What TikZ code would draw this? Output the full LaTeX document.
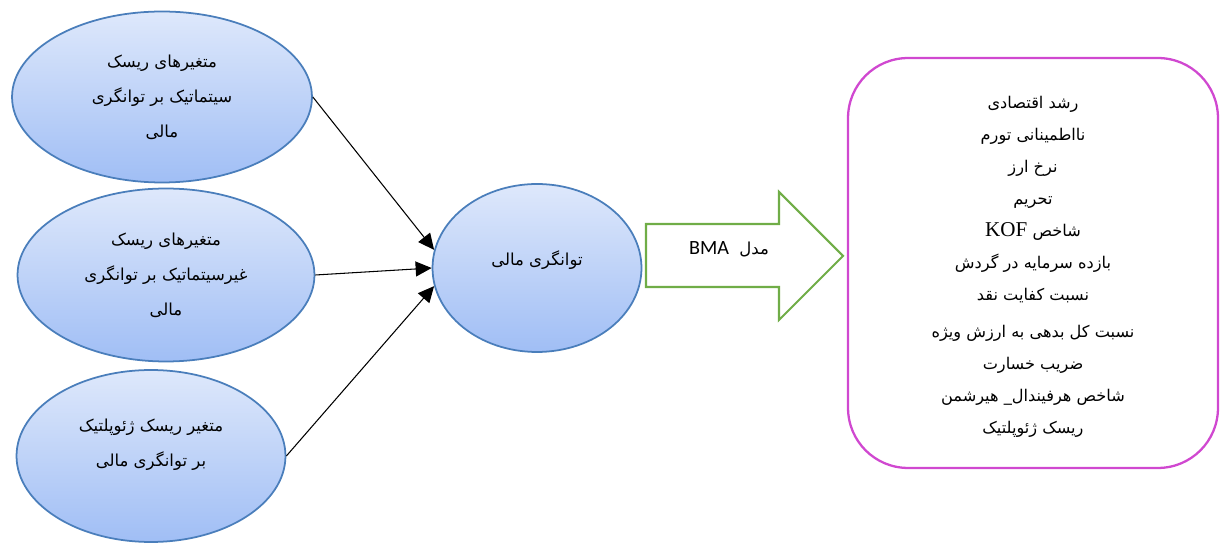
\documentclass[tikz,border=0pt]{standalone}
\usepackage{fontspec}
\setmainfont{Liberation Serif}
\newfontfamily\farsi[Script=Arabic]{DejaVu Sans}
\newfontfamily\calibri{Carlito}
\TeXXeTstate=1
\usetikzlibrary{arrows.meta,shapes.geometric}
\newcommand{\fa}[1]{\beginR #1\endR}
\definecolor{ovalline}{RGB}{74,126,187}
\definecolor{ovaltop}{RGB}{222,232,251}
\definecolor{ovalbottom}{RGB}{160,190,245}
\definecolor{arrowgreen}{RGB}{112,173,71}
\definecolor{boxpink}{RGB}{208,72,208}
\tikzset{
  oval/.style={ellipse, draw=ovalline, line width=1pt, top color=ovaltop,
    bottom color=ovalbottom, align=center, inner sep=0pt,
    font=\farsi\fontsize{9.4}{20}\selectfont},
  link/.style={-{Triangle[length=3.2mm,width=3mm]}, line width=0.6pt},
  bmaarrow/.style={draw=arrowgreen, line width=1.2pt, fill=white},
  factorbox/.style={draw=boxpink, line width=1.3pt, rounded corners=1.2cm},
  factortext/.style={align=center, font=\farsi\fontsize{9.2}{18.2}\selectfont}
}
\begin{document}
\begin{tikzpicture}[x=0.02cm,y=-0.02cm]
  \useasboundingbox (0,0) rectangle (1220,543);
  % risk ovals
  \node[oval, minimum width=6cm, minimum height=3.42cm] (sys) at (162,97)
    {\fa{متغیرهای ریسک}\\ \fa{سیتماتیک بر توانگری}\\ \fa{مالی}};
  \node[oval, minimum width=5.94cm, minimum height=3.46cm] (nonsys) at (166,275)
    {\fa{متغیرهای ریسک}\\ \fa{غیرسیتماتیک بر توانگری}\\ \fa{مالی}};
  \node[oval, minimum width=5.38cm, minimum height=3.44cm] (geo) at (151,456)
    {\fa{متغیر ریسک ژئوپلتیک}\\ \fa{بر توانگری مالی}\\[-11pt] \strut};
  \node[oval, minimum width=4.18cm, minimum height=3.36cm] (solv) at (537,268)
    {\fa{توانگری مالی}\\[-8.6pt]};
  \draw[link] (sys.east) -- (solv.170);
  \draw[link] (nonsys.east) -- (solv.west);
  \draw[link] (geo.east) -- (solv.190);
  % BMA arrow
  \draw[bmaarrow] (646,224) -- (779,224) -- (779,192) -- (843,256)
    -- (779,320) -- (779,287) -- (646,287) -- cycle;
  \node[font=\farsi\fontsize{9.4}{11}\selectfont] (bma) at (729,249)
    {\fa{مدل\ \ \beginL{\calibri\fontsize{11.5}{12}\selectfont BMA}\endL}};
  % factors
  \node[factorbox, minimum width=7.4cm, minimum height=8.2cm] (factors) at (1033,263) {};
  \node[factortext] (factorlist) at (1033,267)
    {\fa{رشد اقتصادی}\\ \fa{نااطمینانی تورم}\\ \fa{نرخ ارز}\\ \fa{تحریم}\\
     \fa{شاخص \beginL{\rmfamily\fontsize{12}{12}\selectfont KOF}\endL}\\
     \fa{بازده سرمایه در گردش}\\ \fa{نسبت کفایت نقد}\\[2.6pt]
     \fa{نسبت کل بدهی به ارزش ویژه}\\ \fa{ضریب خسارت}\\
     \fa{شاخص هرفیندال\_ هیرشمن}\\ \fa{ریسک ژئوپلتیک}};
\end{tikzpicture}
\end{document}
